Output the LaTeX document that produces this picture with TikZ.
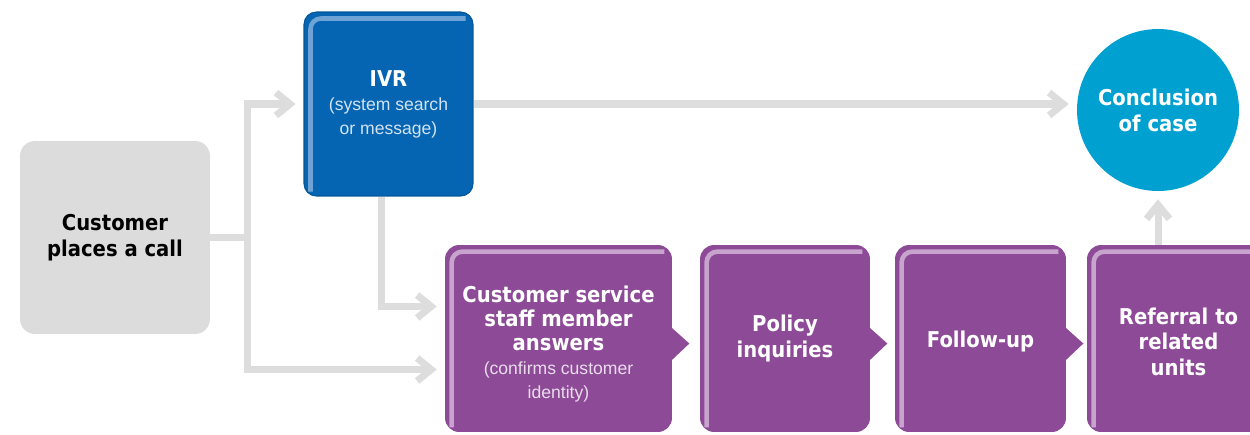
\documentclass[tikz,border=0pt]{standalone}
\usepackage{fontspec}
\setmainfont{DejaVu Sans}[FakeStretch=0.9]
\newfontfamily\notefont{Liberation Sans}
\usetikzlibrary{arrows.meta,calc}
\definecolor{callgray}{HTML}{DCDCDC}
\definecolor{linegray}{HTML}{DDDDDD}
\definecolor{ivrblue}{HTML}{0565B2}
\definecolor{ivrshine}{HTML}{6FA3D5}
\definecolor{ivrnote}{HTML}{D4E3F2}
\definecolor{endblue}{HTML}{00A0D0}
\definecolor{steppurple}{HTML}{8D4B97}
\definecolor{stepshine}{HTML}{C7A3CD}
\definecolor{stepnote}{HTML}{EADCEC}
% light rim along top and left of a box
\newcommand{\shine}[2]{\draw[#2,line width=2.6pt,rounded corners=6pt] ($(#1.south west)+(7,-5)$) |- ($(#1.north east)+(-8,7)$);}
% pointer on the right side of a step box
\newcommand{\notch}[1]{\fill[steppurple] ($(#1.east)+(-2,-12)$) -- ($(#1.east)+(17,5)$) -- ($(#1.east)+(-2,23)$) -- cycle;}
% small note lines
\newcommand{\note}[2]{{\notefont\mdseries\fontsize{10}{13.6}\selectfont\color{#1}#2}}
\begin{document}
\begin{tikzpicture}[x=0.02cm,y=-0.02cm,
  callbox/.style={fill=callgray,rounded corners=8.5pt,minimum width=3.8cm,minimum height=3.86cm,
    inner sep=0pt,align=center,font=\fontsize{12.4}{14.7}\selectfont\bfseries},
  ivrbox/.style={fill=ivrblue,draw=ivrblue!85!black,line width=0.6pt,rounded corners=7pt,
    minimum width=3.38cm,minimum height=3.68cm,inner sep=0pt,align=center,text=white,
    font=\fontsize{12.4}{13.6}\selectfont\bfseries},
  stepbox/.style={fill=steppurple,rounded corners=8pt,minimum height=3.74cm,inner sep=0pt,
    align=center,text=white,font=\fontsize{12.4}{14.6}\selectfont\bfseries},
  endcircle/.style={circle,fill=endblue,minimum size=3.24cm,inner sep=0pt,align=center,
    text=white,font=\fontsize{12.4}{14.7}\selectfont\bfseries},
  flow/.style={linegray,line width=4pt,-{Straight Barb[length=8pt,width=13pt]},shorten >=4.5pt},
]
\clip (0,0) rectangle (1250,434);

\node[callbox] (call) at (115,237.5) {Customer\\places a call};

\node[ivrbox] (ivr) at (388.5,104) {IVR\\\note{ivrnote}{(system search}\\\note{ivrnote}{or message)}};
\shine{ivr}{ivrshine}

\node[endcircle] (conc) at (1158,110) {Conclusion\\of case};

\node[stepbox,minimum width=4.54cm,font=\fontsize{12.4}{13.6}\selectfont\bfseries] (cs) at (558.5,338.5)
  {\rule{0pt}{16pt}Customer service\\staff member\\answers\\\note{stepnote}{(confirms customer}\\\note{stepnote}{identity)}};
\node[stepbox,minimum width=3.4cm] (pol) at (785,338.5) {Policy\\inquiries};
\node[stepbox,minimum width=3.42cm] (fol) at (980.5,338.5) {\rule{0pt}{13pt}Follow-up};
\node[stepbox,minimum width=3.66cm] (ref) at (1178.5,338.5) {\rule{0pt}{13pt}Referral to\\related\\units};
\notch{cs}
\notch{pol}
\notch{fol}
\shine{cs}{stepshine}
\shine{pol}{stepshine}
\shine{fol}{stepshine}
\shine{ref}{stepshine}

% connectors
\coordinate (split) at ($(call.east)+(37,0)$);
\draw[flow] (call.east) -- (split) |- (ivr.west);
\draw[flow] (split) |- ($(cs.west)+(0,31)$);
\draw[flow] ($(ivr.south)+(-7,0)$) |- ($(cs.west)+(0,-32)$);
\draw[flow] (ivr.east) -- (ivr.east -| conc.west);
\draw[flow] (ref.north -| conc.south) -- (conc.south);
\end{tikzpicture}
\end{document}
